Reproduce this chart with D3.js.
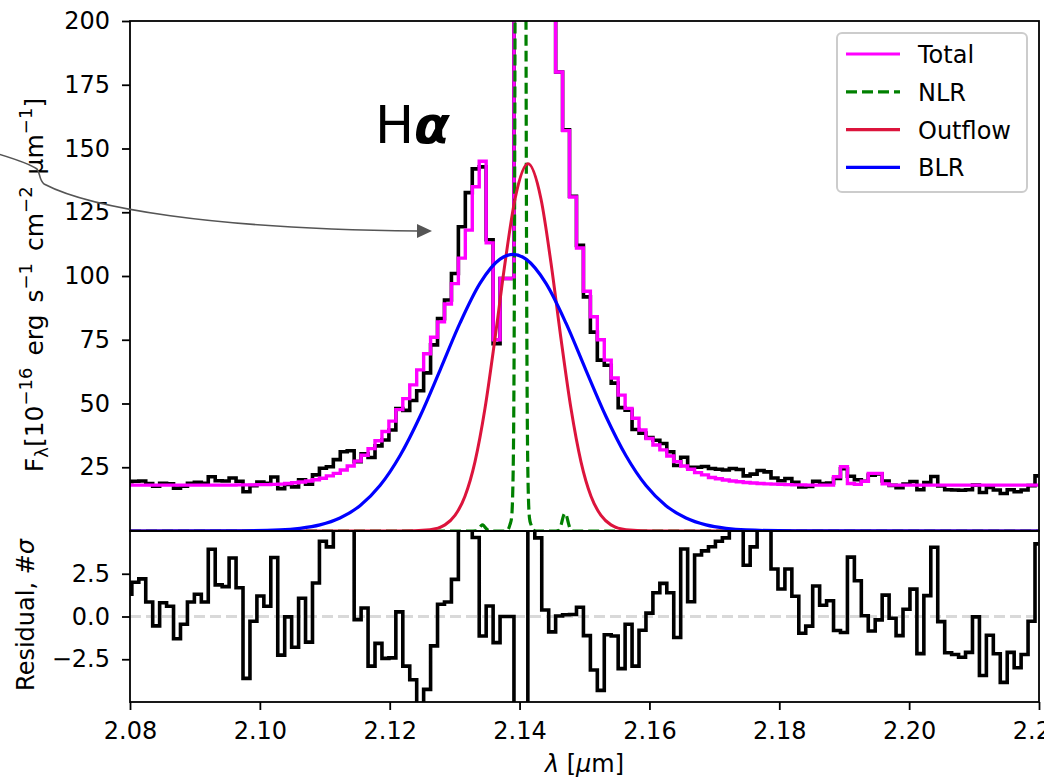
<!DOCTYPE html>
<html><head><meta charset="utf-8">
<script src="https://cdn.jsdelivr.net/npm/d3@7"></script>
<style>
html,body{margin:0;padding:0;background:#fff;}
svg{display:block;font-family:"DejaVu Sans",sans-serif;}
</style></head><body>
<svg id="chart" width="1044" height="779"></svg>
<script>
// ---------------- data ----------------
const wavelength = [2.07975,2.08082,2.08189,2.08296,2.08403,2.08510,2.08617,2.08724,2.08831,2.08938,
2.09045,2.09152,2.09259,2.09366,2.09473,2.09580,2.09687,2.09794,2.09901,2.10008,
2.10115,2.10222,2.10329,2.10436,2.10543,2.10650,2.10757,2.10864,2.10971,2.11078,
2.11185,2.11292,2.11399,2.11506,2.11613,2.11720,2.11827,2.11934,2.12041,2.12148,
2.12255,2.12362,2.12469,2.12576,2.12683,2.12790,2.12897,2.13004,2.13111,2.13218,
2.13325,2.13432,2.13539,2.13646,2.13753,2.13860,2.13967,2.14074,2.14181,2.14288,
2.14395,2.14502,2.14609,2.14716,2.14823,2.14930,2.15037,2.15144,2.15251,2.15358,
2.15465,2.15572,2.15679,2.15786,2.15893,2.16000,2.16107,2.16214,2.16321,2.16428,
2.16535,2.16642,2.16749,2.16856,2.16963,2.17070,2.17177,2.17284,2.17391,2.17498,
2.17605,2.17712,2.17819,2.17926,2.18033,2.18140,2.18247,2.18354,2.18461,2.18568,
2.18675,2.18782,2.18889,2.18996,2.19103,2.19210,2.19317,2.19424,2.19531,2.19638,
2.19745,2.19852,2.19959,2.20066,2.20173,2.20280,2.20387,2.20494,2.20601,2.20708,
2.20815,2.20922,2.21029,2.21136,2.21243,2.21350,2.21457,2.21564,2.21671,2.21778,
2.21885,2.21992];

const totalModel = [18.0,18.0,18.0,18.0,18.0,18.0,18.0,18.0,18.0,18.0,
18.0,18.0,18.0,18.0,18.0,18.0,18.1,18.1,18.1,18.2,
18.2,18.3,18.4,18.6,18.9,19.2,19.6,20.1,20.7,21.6,
22.6,23.9,25.5,27.4,29.7,32.3,35.4,39.0,43.1,47.6,
51.9,57.3,63.2,69.5,76.0,82.0,89.0,97.0,107.0,118.0,
135.0,145.0,113.0,75.0,99.0,99.0,320,700,900,450,
260,215,180,157,131,111,94,84,75,67,
60,53.3,48.1,44.2,39.6,36.3,33.7,31.8,29.4,27.2,
25.5,24.2,22.9,22.0,21.0,20.5,20.0,19.6,19.3,19.0,
18.8,18.6,18.5,18.4,18.3,18.2,18.1,18.1,18.0,18.0,
18.0,18.0,21.3,25.2,18.6,18.3,19.5,22.6,22.6,18.5,
18.0,18.0,18.0,18.0,18.0,18.0,18.0,18.0,18.0,18.0,
18.0,18.0,18.0,18.0,18.0,18.0,18.0,18.0,18.0,18.0,
18.0,18.0];

const observedFlux = [19.3,19.5,19.6,18.6,17.6,18.7,18.5,16.8,17.6,18.7,
19.1,18.7,21.3,19.7,19.6,20.8,19.5,15.4,17.8,19.2,
18.7,21.2,16.6,18.3,17.3,20.1,18.4,22.0,24.6,25.2,
28.0,31.1,31.5,27.2,30.3,28.8,33.4,35.7,39.6,48.0,
47.3,51.2,55.0,62.0,73.0,83.3,90.6,101.0,119.3,132.7,
142.0,142.8,114.2,73.5,99.0,99.0,250,500,1100,470,
262,212,180,157.3,131.3,112,91.8,78,67,65,
58,48.4,47.4,39.8,38.4,36.6,35.6,34.3,31.1,25.7,
28.9,25.0,25.0,25.3,24.5,24.2,23.9,24.5,24.1,21.6,
22.3,23.7,23.2,20.8,19.7,20.6,19.1,17.3,17.5,19.5,
18.6,18.8,20.6,24.4,21.5,20.1,19.5,21.9,22.4,19.6,
17.9,17.0,18.4,19.4,16.2,19.0,21.4,17.7,16.2,16.1,
16.0,16.2,18.0,15.1,17.1,16.1,14.7,16.2,15.4,16.1,
17.8,21.6];

const residual = [1.3,2.0,2.2,0.85,-0.55,0.8,0.6,-1.3,-0.45,0.85,
1.3,0.85,3.93,1.85,1.75,3.42,1.68,-3.62,-0.28,1.2,
0.6,3.45,-2.26,-0.02,-1.8,1.07,-1.5,1.96,4.4,4.07,
6.5,7.0,6.0,-0.18,0.5,-2.9,-1.57,-2.45,-2.42,0.27,
-2.9,-3.7,-6.0,-4.26,-1.72,0.72,0.85,2.17,7.0,9.0,
4.62,-1.14,0.61,-1.53,0.0,0.0,-9.0,-14.0,12.0,4.6,
0.38,-0.9,0.03,0.1,0.12,0.54,-1.12,-3.13,-4.32,-1.07,
-1.14,-3.05,-0.45,-2.9,-0.8,0.2,1.39,1.94,1.39,-1.23,
3.95,0.86,3.6,3.84,4.08,4.4,4.6,5.5,5.6,3.0,
4.07,6.0,5.5,2.78,1.61,2.78,1.18,-0.98,-0.56,1.78,
0.66,0.92,-0.82,-0.94,3.47,2.09,0.04,-0.85,-0.2,1.25,
-0.1,-1.12,0.42,1.6,-2.17,1.22,4.05,-0.3,-2.12,-2.22,
-2.38,-2.1,-0.02,-3.45,-1.1,-2.18,-3.85,-2.1,-3.0,-2.22,
-0.28,4.25];

// model components: [wavelength, flux] points
const nlrCurve = [[2.08,0],[2.13236,0],[2.13329,0.1],[2.13375,1.0],[2.13406,2.0],[2.13429,2.4],
[2.13452,2.0],[2.13483,1.0],[2.13529,0.1],[2.13621,0],[2.13776,0],[2.13822,0.5],[2.13852,2.5],
[2.13876,5],[2.13899,20],[2.13919,90],[2.13930,200],[2.13953,560],[2.13976,1100],[2.14014,1500],
[2.14053,1100],[2.14076,560],[2.14099,200],[2.14110,90],[2.14130,20],[2.14153,5],[2.14176,2.5],
[2.14207,0.5],[2.14253,0],[2.14561,0],[2.14607,0.3],[2.14646,3],[2.14676,6],[2.14700,7],
[2.14723,6],[2.14753,3],[2.14792,0.3],[2.14838,0],[2.22,0]];

const outflowCurve = [[2.08,0],[2.12158,0.01],[2.12620,0.48],[2.12851,2.4],[2.13005,6.1],[2.13159,13.6],
[2.13313,27.1],[2.13467,48],[2.13621,75.4],[2.13776,105.1],[2.13930,130.2],[2.14130,144],
[2.14330,130.2],[2.14484,105.1],[2.14638,75.4],[2.14792,48],[2.14946,27.1],[2.15100,13.6],
[2.15254,6.1],[2.15408,2.4],[2.15639,0.48],[2.16101,0.01],[2.22,0]];

const blrCurve = [[2.08,0],[2.09540,0.03],[2.10310,0.43],[2.10618,1.06],[2.10926,2.4],[2.11234,5.1],
[2.11542,9.9],[2.11850,17.8],[2.12158,29.5],[2.12466,44.9],[2.12774,63],[2.13082,81.5],
[2.13390,97.1],[2.13699,106.6],[2.13899,108.5],[2.14099,106.6],[2.14407,97.1],[2.14715,81.5],
[2.15023,63],[2.15331,44.9],[2.15639,29.5],[2.15947,17.8],[2.16255,9.9],[2.16563,5.1],
[2.16871,2.4],[2.17179,1.06],[2.17487,0.43],[2.18257,0.03],[2.22,0]];

const xTicks = [2.08,2.10,2.12,2.14,2.16,2.18,2.20,2.22];
const xTickLabels = ["2.08","2.10","2.12","2.14","2.16","2.18","2.20","2.22"];
const fluxTicks = [25,50,75,100,125,150,175,200];
const residTicks = [2.5,0,-2.5];
const residTickLabels = ["2.5","0.0","\u22122.5"];
const legendLabels = ["Total","NLR","Outflow","BLR"];
const legendColors = ["#ff00ff","#008000","#dc143c","#0000ff"];

// ---------------- layout ----------------
const svg = d3.select("#chart");
const L = 130, R = 1039, T = 21, MID = 531, B = 702;
const x = d3.scaleLinear().domain([2.08,2.22]).range([L,R]);
const yTop = d3.scaleLinear().domain([0,200]).range([MID,T]);
const yRes = d3.scaleLinear().domain([-5,5]).range([B,MID]);

const defs = svg.append("defs");
defs.append("clipPath").attr("id","clipTop").append("rect")
  .attr("x",L).attr("y",T).attr("width",R-L).attr("height",MID-T);
defs.append("clipPath").attr("id","clipRes").append("rect")
  .attr("x",L).attr("y",MID).attr("width",R-L).attr("height",B-MID);

const bins = wavelength.map((w,i)=>({w, tot: totalModel[i], obs: observedFlux[i], res: residual[i]}));

// ---------- top panel ----------
const gTop = svg.append("g").attr("clip-path","url(#clipTop)");
const stepObs = d3.line().x(d=>x(d.w)).y(d=>yTop(d.obs)).curve(d3.curveStep);
const stepTot = d3.line().x(d=>x(d.w)).y(d=>yTop(d.tot)).curve(d3.curveStep);
gTop.append("path").datum(bins).attr("d",stepObs)
  .attr("fill","none").attr("stroke","#000").attr("stroke-width",3.6).attr("stroke-linejoin","miter");
gTop.append("path").datum(bins).attr("d",stepTot)
  .attr("fill","none").attr("stroke","#ff00ff").attr("stroke-width",3.4).attr("stroke-linejoin","miter");
const compLine = d3.line().x(d=>x(d[0])).y(d=>yTop(d[1])).curve(d3.curveMonotoneX);
gTop.append("path").datum(nlrCurve).attr("d",compLine)
  .attr("fill","none").attr("stroke","#008000").attr("stroke-width",3.2).attr("stroke-dasharray","11,5");
gTop.append("path").datum(outflowCurve).attr("d",compLine)
  .attr("fill","none").attr("stroke","#dc143c").attr("stroke-width",3);
gTop.append("path").datum(blrCurve).attr("d",compLine)
  .attr("fill","none").attr("stroke","#0000ff").attr("stroke-width",3.2);

// ---------- residual panel ----------
const gRes = svg.append("g").attr("clip-path","url(#clipRes)");
gRes.append("line").attr("x1",L).attr("x2",R).attr("y1",yRes(0)).attr("y2",yRes(0))
  .attr("stroke","#d9d9d9").attr("stroke-width",3.2).attr("stroke-dasharray","11,5");
const stepRes = d3.line().x(d=>x(d.w)).y(d=>yRes(d.res)).curve(d3.curveStep);
gRes.append("path").datum(bins).attr("d",stepRes)
  .attr("fill","none").attr("stroke","#000").attr("stroke-width",3.6);

// ---------- axes ----------
const fontSize = 24;
function styleAxis(g){
  g.selectAll(".domain").remove();
  g.selectAll(".tick line").attr("stroke","#000").attr("stroke-width",1.8);
  g.selectAll(".tick text").attr("fill","#000").style("font-size",fontSize+"px")
    .style("font-family","'DejaVu Sans',sans-serif");
}
svg.append("g").attr("transform",`translate(${L},0)`)
  .call(d3.axisLeft(yTop).tickValues(fluxTicks).tickSize(8).tickPadding(12).tickFormat(d3.format("d")))
  .call(styleAxis);
svg.append("g").attr("transform",`translate(${L},0)`)
  .call(d3.axisLeft(yRes).tickValues(residTicks).tickSize(8).tickPadding(12)
    .tickFormat((d,i)=>residTickLabels[i]))
  .call(styleAxis);
svg.append("g").attr("transform",`translate(0,${B})`)
  .call(d3.axisBottom(x).tickValues(xTicks).tickSize(8).tickPadding(12)
    .tickFormat((d,i)=>xTickLabels[i]))
  .call(styleAxis);

// spines
[[T,MID],[MID,B]].forEach(([a,b])=>{
  svg.append("rect").attr("x",L).attr("y",a).attr("width",R-L).attr("height",b-a)
    .attr("fill","none").attr("stroke","#000").attr("stroke-width",1.8);
});

// ---------- labels ----------
const xl = svg.append("text").attr("x",(L+R)/2).attr("y",772).attr("text-anchor","middle")
  .style("font-size","24px");
xl.append("tspan").style("font-style","italic").text("\u03bb");
xl.append("tspan").text(" [");
xl.append("tspan").style("font-style","italic").text("\u03bc");
xl.append("tspan").text("m]");

svg.append("text").attr("transform","translate(34,615) rotate(-90)").attr("text-anchor","middle")
  .style("font-size","24px")
  .call(t=>{ t.append("tspan").text("Residual, #");
             t.append("tspan").style("font-style","italic").text("\u03c3"); });

const yl = svg.append("text").attr("transform","translate(43,285) rotate(-90)")
  .attr("text-anchor","middle").style("font-size","25px").style("word-spacing","4px");
function sup(t,s){ t.append("tspan").attr("dy",-11).style("font-size","18px").text(s);
                   return t.append("tspan").attr("dy",11); }
yl.append("tspan").text("F");
yl.append("tspan").attr("dy",5).style("font-size","18px").text("\u03bb");
yl.append("tspan").attr("dy",-5).text("[10");
sup(yl,"\u221216").text(" erg s");
sup(yl,"\u22121").text(" cm");
sup(yl,"\u22122").text(" \u03bcm");
sup(yl,"\u22121").text("]");

// H-alpha annotation
const ha = svg.append("text").attr("x",375).attr("y",143).style("font-size","52px");
ha.append("tspan").text("H");
ha.append("tspan").style("font-weight","bold").style("font-style","italic").text("\u03b1");

// curved arrow
svg.append("path")
  .attr("d","M -5,153 C 15,159 30,164 37,169 C 40,172 39,180 44,184 C 90,208 210,229 418,231")
  .attr("fill","none").attr("stroke","#555").attr("stroke-width",1.6);
svg.append("path").attr("d","M 417,224 L 432,231 L 417,238 Z").attr("fill","#555");

// legend
const lg = svg.append("g");
lg.append("rect").attr("x",837).attr("y",33).attr("width",190).attr("height",159).attr("rx",5)
  .attr("fill","#fff").attr("fill-opacity",0.85).attr("stroke","#cccccc").attr("stroke-width",2);
legendLabels.forEach((lab,i)=>{
  const yy = 54 + i*37.8;
  lg.append("line").attr("x1",846).attr("x2",900).attr("y1",yy).attr("y2",yy)
    .attr("stroke",legendColors[i]).attr("stroke-width", 3.2)
    .attr("stroke-dasharray", i===1 ? "11,5" : null);
  lg.append("text").attr("x",918).attr("y",yy+9).style("font-size","24px").text(lab);
});
</script>
</body></html>
